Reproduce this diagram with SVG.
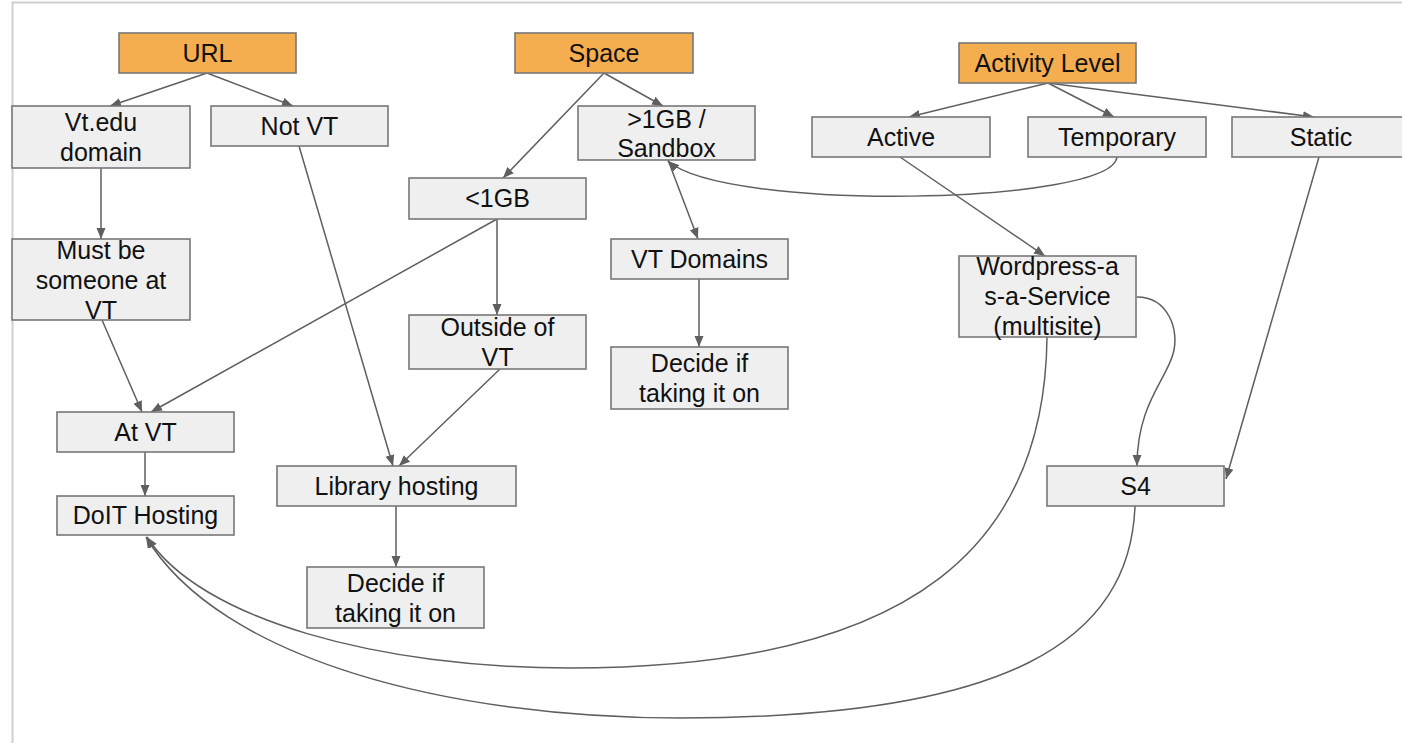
<svg xmlns="http://www.w3.org/2000/svg" width="1402" height="743" viewBox="0 0 1402 743">
  <style>
    .box { fill: #efefef; stroke: #777777; stroke-width: 1.6; }
    .head { fill: #f5ae4f; stroke: #777777; stroke-width: 1.6; }
    .lbl { font-family: "Liberation Sans", Arial, sans-serif; font-size: 25px; fill: #111111; text-anchor: middle; }
    .edge { fill: none; stroke: #5f5f5f; stroke-width: 1.5; marker-end: url(#arrow); }
  </style>
  <defs>
    <marker id="arrow" markerUnits="userSpaceOnUse" markerWidth="12" markerHeight="10" refX="11" refY="5" orient="auto">
      <path d="M0,0.5 L11,5 L0,9.5 z" fill="#5f5f5f"/>
    </marker>
  </defs>

  <rect width="1402" height="743" fill="#ffffff"/>
  <!-- page edge -->
  <path d="M12.5,743 V2.5 H1402" fill="none" stroke="#d0d0d0" stroke-width="2"/>

  <g id="connectors">
    <!-- URL branch -->
    <path class="edge" d="M207,73 L110,106"/>
    <path class="edge" d="M207,73 L293,106"/>
    <path class="edge" d="M101,168 L101,239"/>
    <path class="edge" d="M299,146 L393,466"/>
    <path class="edge" d="M102,320 L142,412"/>
    <path class="edge" d="M497,219 L151,412"/>
    <path class="edge" d="M145,452 L145,496"/>
    <!-- Space branch -->
    <path class="edge" d="M604,73 L503,178"/>
    <path class="edge" d="M604,73 L663,106"/>
    <path class="edge" d="M497,219 L497,315"/>
    <path class="edge" d="M500,369 L399,466"/>
    <path class="edge" d="M396,506 L396,567"/>
    <path class="edge" d="M668,160 L698,239"/>
    <path class="edge" d="M699,279 L699,347"/>
    <!-- Activity Level branch -->
    <path class="edge" d="M1048,83 L909,117"/>
    <path class="edge" d="M1048,83 L1114,117"/>
    <path class="edge" d="M1048,83 L1314,117"/>
    <path class="edge" d="M1117,157 C1112,205 725,212 668,161"/>
    <path class="edge" d="M900,157 L1045,256"/>
    <path class="edge" d="M1137,297 C1168,297 1180,330 1173,354 C1166,380 1137,405 1137,466"/>
    <path class="edge" d="M1319,157 L1226,479"/>
    <!-- returns to DoIT Hosting -->
    <path class="edge" d="M1047,337 C1045,540 920,668 570,668 C380,668 200,620 147,537"/>
    <path class="edge" d="M1135,506 C1130,640 1010,718 680,718 C450,718 220,660 146,537"/>
  </g>

  <g id="url">
    <rect class="head" x="119" y="33" width="177" height="40"/>
    <text class="lbl" x="207.5" y="62">URL</text>
  </g>
  <g id="vt-edu-domain">
    <rect class="box" x="12" y="106" width="178" height="62"/>
    <text class="lbl" x="101" y="131">Vt.edu</text>
    <text class="lbl" x="101" y="161">domain</text>
  </g>
  <g id="not-vt">
    <rect class="box" x="211" y="106" width="177" height="40"/>
    <text class="lbl" x="299.5" y="135">Not VT</text>
  </g>
  <g id="must-be-someone">
    <rect class="box" x="12" y="239" width="178" height="81"/>
    <text class="lbl" x="101" y="258.5">Must be</text>
    <text class="lbl" x="101" y="288.5">someone at</text>
    <text class="lbl" x="101" y="318.5">VT</text>
  </g>
  <g id="at-vt">
    <rect class="box" x="57" y="412" width="177" height="40"/>
    <text class="lbl" x="145.5" y="441">At VT</text>
  </g>
  <g id="doit-hosting">
    <rect class="box" x="57" y="496" width="177" height="39"/>
    <text class="lbl" x="145.5" y="524">DoIT Hosting</text>
  </g>
  <g id="space">
    <rect class="head" x="515" y="33" width="178" height="40"/>
    <text class="lbl" x="604" y="62">Space</text>
  </g>
  <g id="over-1gb">
    <rect class="box" x="578" y="106" width="177" height="54"/>
    <text class="lbl" x="666.5" y="128">&gt;1GB /</text>
    <text class="lbl" x="666.5" y="157">Sandbox</text>
  </g>
  <g id="under-1gb">
    <rect class="box" x="409" y="178" width="177" height="41"/>
    <text class="lbl" x="497.5" y="207">&lt;1GB</text>
  </g>
  <g id="outside-of-vt">
    <rect class="box" x="409" y="315" width="177" height="54"/>
    <text class="lbl" x="497.5" y="336">Outside of</text>
    <text class="lbl" x="497.5" y="366">VT</text>
  </g>
  <g id="library-hosting">
    <rect class="box" x="277" y="466" width="239" height="40"/>
    <text class="lbl" x="396.5" y="495">Library hosting</text>
  </g>
  <g id="decide-library">
    <rect class="box" x="307" y="567" width="177" height="61"/>
    <text class="lbl" x="395.5" y="591.5">Decide if</text>
    <text class="lbl" x="395.5" y="621.5">taking it on</text>
  </g>
  <g id="vt-domains">
    <rect class="box" x="611" y="239" width="177" height="40"/>
    <text class="lbl" x="699.5" y="268">VT Domains</text>
  </g>
  <g id="decide-domains">
    <rect class="box" x="611" y="347" width="177" height="62"/>
    <text class="lbl" x="699.5" y="372">Decide if</text>
    <text class="lbl" x="699.5" y="402">taking it on</text>
  </g>
  <g id="activity-level">
    <rect class="head" x="959" y="43" width="177" height="40"/>
    <text class="lbl" x="1047.5" y="72">Activity Level</text>
  </g>
  <g id="active">
    <rect class="box" x="812" y="117" width="178" height="40"/>
    <text class="lbl" x="901" y="146">Active</text>
  </g>
  <g id="temporary">
    <rect class="box" x="1028" y="117" width="178" height="40"/>
    <text class="lbl" x="1117" y="146">Temporary</text>
  </g>
  <g id="static">
    <rect class="box" x="1232" y="117" width="178" height="40"/>
    <text class="lbl" x="1321" y="146">Static</text>
  </g>
  <g id="wordpress">
    <rect class="box" x="959" y="256" width="177" height="81"/>
    <text class="lbl" x="1047.5" y="275">Wordpress-a</text>
    <text class="lbl" x="1047.5" y="305">s-a-Service</text>
    <text class="lbl" x="1047.5" y="335">(multisite)</text>
  </g>
  <g id="s4">
    <rect class="box" x="1047" y="466" width="177" height="40"/>
    <text class="lbl" x="1135.5" y="495">S4</text>
  </g>
</svg>
